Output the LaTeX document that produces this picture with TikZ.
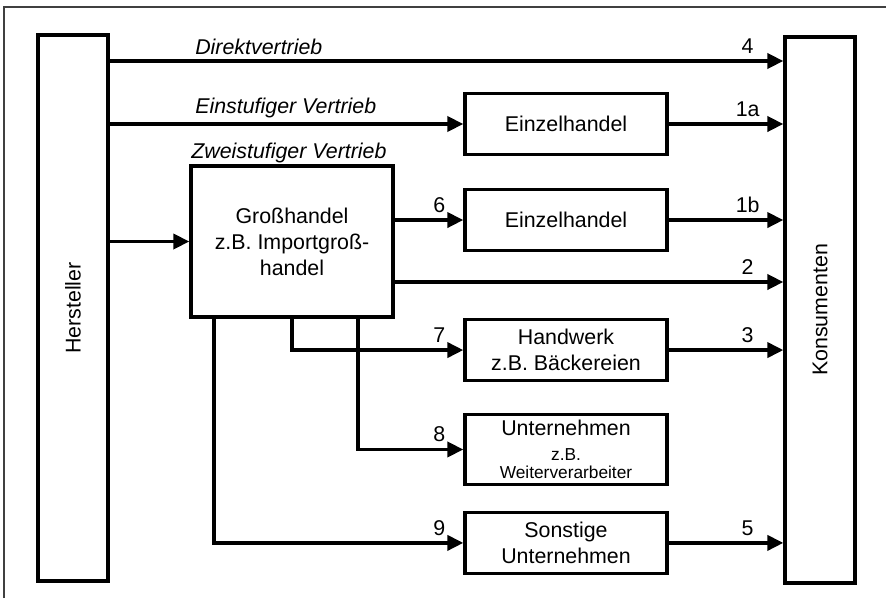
\documentclass[tikz,border=0pt]{standalone}
\usepackage{fontspec}
\setmainfont{Liberation Sans}
\usetikzlibrary{arrows.meta, positioning, calc}

\newcommand{\schrift}{\fontsize{15.2}{18.4}\selectfont}
\newcommand{\klein}{\fontsize{12.3}{14.5}\selectfont}

\begin{document}
\begin{tikzpicture}[
            x=0.025cm, y=-0.025cm, font=\schrift,
            box/.style={draw, line width=0.085cm, minimum width=5.05cm, minimum height=1.525cm, align=center, inner sep=0pt},
            saeule/.style={box, minimum width=1.75cm, minimum height=13.65cm},
            pfeil/.style={line width=0.085cm, -{Triangle[length=0.4cm, width=0.38cm]}},
            vertrieb/.style={font=\schrift\itshape, anchor=base west, inner sep=0pt},
            nr/.style={anchor=south, inner sep=0pt, yshift=0.15cm, xshift=#1},
            nr/.default=-0.89cm
        ]
            \useasboundingbox (0,0) rectangle (886,598);
            \draw[line width=0.03cm, black!75] (4,598) -- (4,7) -- (886,7);

            \node[saeule] (herst) at (73,308) {};
            \node[rotate=90] (hersttext) at (herst.center) {Hersteller};
            \node[saeule] (kons) at (820,310) {};
            \node[rotate=90] (konstext) at (kons.center) {Konsumenten};

            \node[box] (einzel1) at (566,124) {Einzelhandel};
            \node[box, below=0.79cm of einzel1] (einzel2) {Einzelhandel};
            \node[box, below=1.64cm of einzel2] (handwerk) {Handwerk\\z.B. Bäckereien};
            \node[box, minimum height=1.735cm, below=0.77cm of handwerk] (untern) {Unternehmen\\[-1pt]\klein z.B.\\[-5.7pt]\klein Weiterverarbeiter};
            \node[box, below=0.62cm of untern] (sonst) {Sonstige\\Unternehmen};
            \node[box, minimum height=3.775cm] (gross) at (292,241.5) {Großhandel\\z.B. Importgroß-\\handel};

            \node[vertrieb] (direkt) at (195,54) {Direktvertrieb};
            \node[vertrieb] (einstufig) at (195,113) {Einstufiger Vertrieb};
            \node[vertrieb] (zweistufig) at (191,158) {Zweistufiger Vertrieb};

            \coordinate (wegdirekt) at (0,61);
            \coordinate (weg2) at (0,282);

            \draw[pfeil] (herst.east |- wegdirekt) -- (kons.west |- wegdirekt) node[nr] {4};
            \draw[pfeil] (herst.east |- einzel1.west) -- (einzel1.west);
            \draw[pfeil] (einzel1.east) -- (kons.west |- einzel1.east) node[nr] {1a};
            \draw[pfeil] (herst.east |- gross.west) -- (gross.west);
            \draw[pfeil] (gross.east |- einzel2.west) -- (einzel2.west) node[nr=-0.6cm] {6};
            \draw[pfeil] (einzel2.east) -- (kons.west |- einzel2.east) node[nr] {1b};
            \draw[pfeil] (gross.east |- weg2) -- (kons.west |- weg2) node[nr] {2};
            \draw[pfeil] (gross.south) |- (handwerk.west) node[nr=-0.6cm] {7};
            \draw[pfeil] (handwerk.east) -- (kons.west |- handwerk.east) node[nr] {3};
            \draw[pfeil] ($(gross.south)+(66,0)$) |- (untern.west) node[nr=-0.6cm] {8};
            \draw[pfeil] ($(gross.south)+(-78,0)$) |- (sonst.west) node[nr=-0.6cm] {9};
            \draw[pfeil] (sonst.east) -- (kons.west |- sonst.east) node[nr] {5};
        \end{tikzpicture}
\end{document}
